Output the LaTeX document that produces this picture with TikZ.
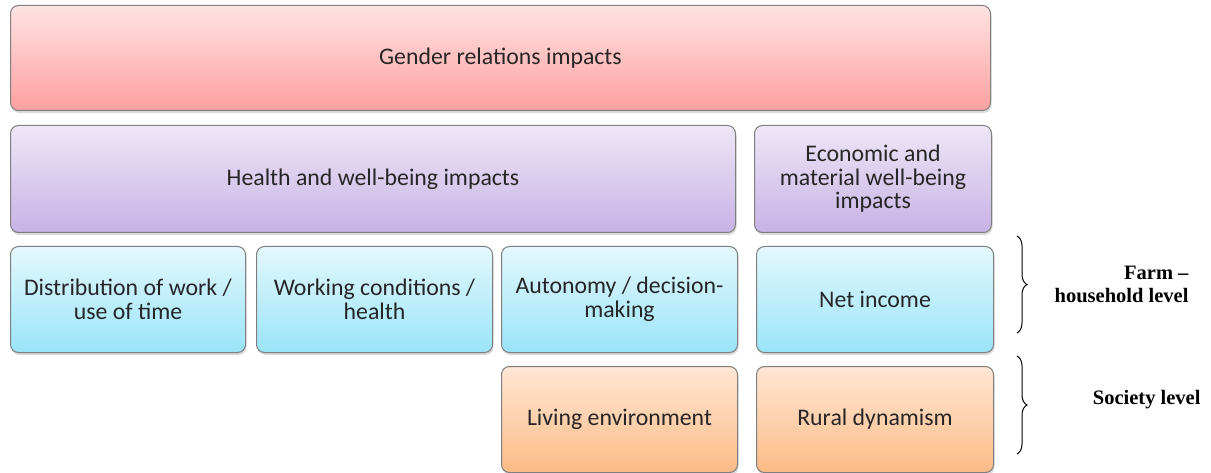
\documentclass[tikz,border=0pt]{standalone}
\usepackage{fontspec}
\setmainfont{Carlito}
\newfontfamily\lvlfont{Liberation Serif}
\usepackage{tikz}
\usetikzlibrary{positioning,shadows,decorations.pathreplacing,calc}
\definecolor{boxline}{HTML}{7F7F7F}
\definecolor{boxtext}{HTML}{262626}
\tikzset{
  imp/.style={draw=boxline, line width=1pt, rounded corners=8pt, align=center,
              font=\fontsize{23.8}{23.5}\selectfont, text=boxtext, inner sep=4pt,
              drop shadow={shadow xshift=1pt, shadow yshift=-2.5pt, opacity=0.3}},
  gend/.style={imp, top color={rgb,255:red,255;green,226;blue,226},
               bottom color={rgb,255:red,255;green,160;blue,160}},
  hlth/.style={imp, top color={rgb,255:red,238;green,231;blue,247},
               bottom color={rgb,255:red,199;green,178;blue,229}},
  farm/.style={imp, top color={rgb,255:red,227;green,248;blue,253},
               bottom color={rgb,255:red,154;green,228;blue,248},
               minimum height=106pt},
  soc/.style={imp, top color={rgb,255:red,255;green,231;blue,213},
              bottom color={rgb,255:red,252;green,187;blue,134},
              minimum height=106pt},
  lvl/.style={font=\lvlfont\bfseries\fontsize{20.5}{23}\selectfont, align=right},
  brc/.style={decorate, decoration={brace, amplitude=10pt}, line width=1pt},
}

\begin{document}
\begin{tikzpicture}[x=1pt, y=-1pt]
  \useasboundingbox (0,0) rectangle (1211,473);
  % top rows
  \node[gend, minimum width=980pt, minimum height=105pt, anchor=north west]
    (gender) at (10,5) {Gender relations impacts};
  \node[hlth, minimum width=725pt, minimum height=107pt,
        below=14pt of gender.south west, anchor=north west]
    (health) {Health and well-being impacts};
  \node[hlth, minimum width=237pt, minimum height=107pt, right=18pt of health]
    (econ) {Economic and\\material well-being\\impacts};
  % farm - household level
  \node[farm, minimum width=235pt, below=13pt of health.south west, anchor=north west]
    (dist) {Distribution of work /\\use of time};
  \node[farm, minimum width=236pt, right=10pt of dist] (work) {Working conditions /\\health};
  \node[farm, minimum width=236pt, right=8pt of work] (auto) {Autonomy / decision-\\making};
  \node[farm, minimum width=237pt, right=18pt of auto] (net) {Net income};
  % society level
  \node[soc, minimum width=236pt, below=13pt of auto] (living) {Living environment};
  \node[soc, minimum width=237pt, below=13pt of net] (rural) {Rural dynamism};
  % braces and level labels
  \coordinate (farmtop) at ([xshift=23pt, yshift=10pt]net.north east);
  \coordinate (farmbot) at ([xshift=23pt, yshift=20pt]net.south east);
  \coordinate (soctop) at ([xshift=23pt, yshift=10pt]rural.north east);
  \coordinate (socbot) at ([xshift=23pt, yshift=19pt]rural.south east);
  \draw[brc] (farmtop) -- (farmbot);
  \draw[brc] (soctop) -- (socbot);
  \node[lvl, anchor=east] (farmlbl) at ([xshift=175pt]$(farmtop)!0.5!(farmbot)$) {Farm –\\household level};
  \node[lvl, anchor=east] (soclbl) at ([xshift=187pt, yshift=5pt]$(soctop)!0.5!(socbot)$) {Society level};
\end{tikzpicture}
\end{document}
